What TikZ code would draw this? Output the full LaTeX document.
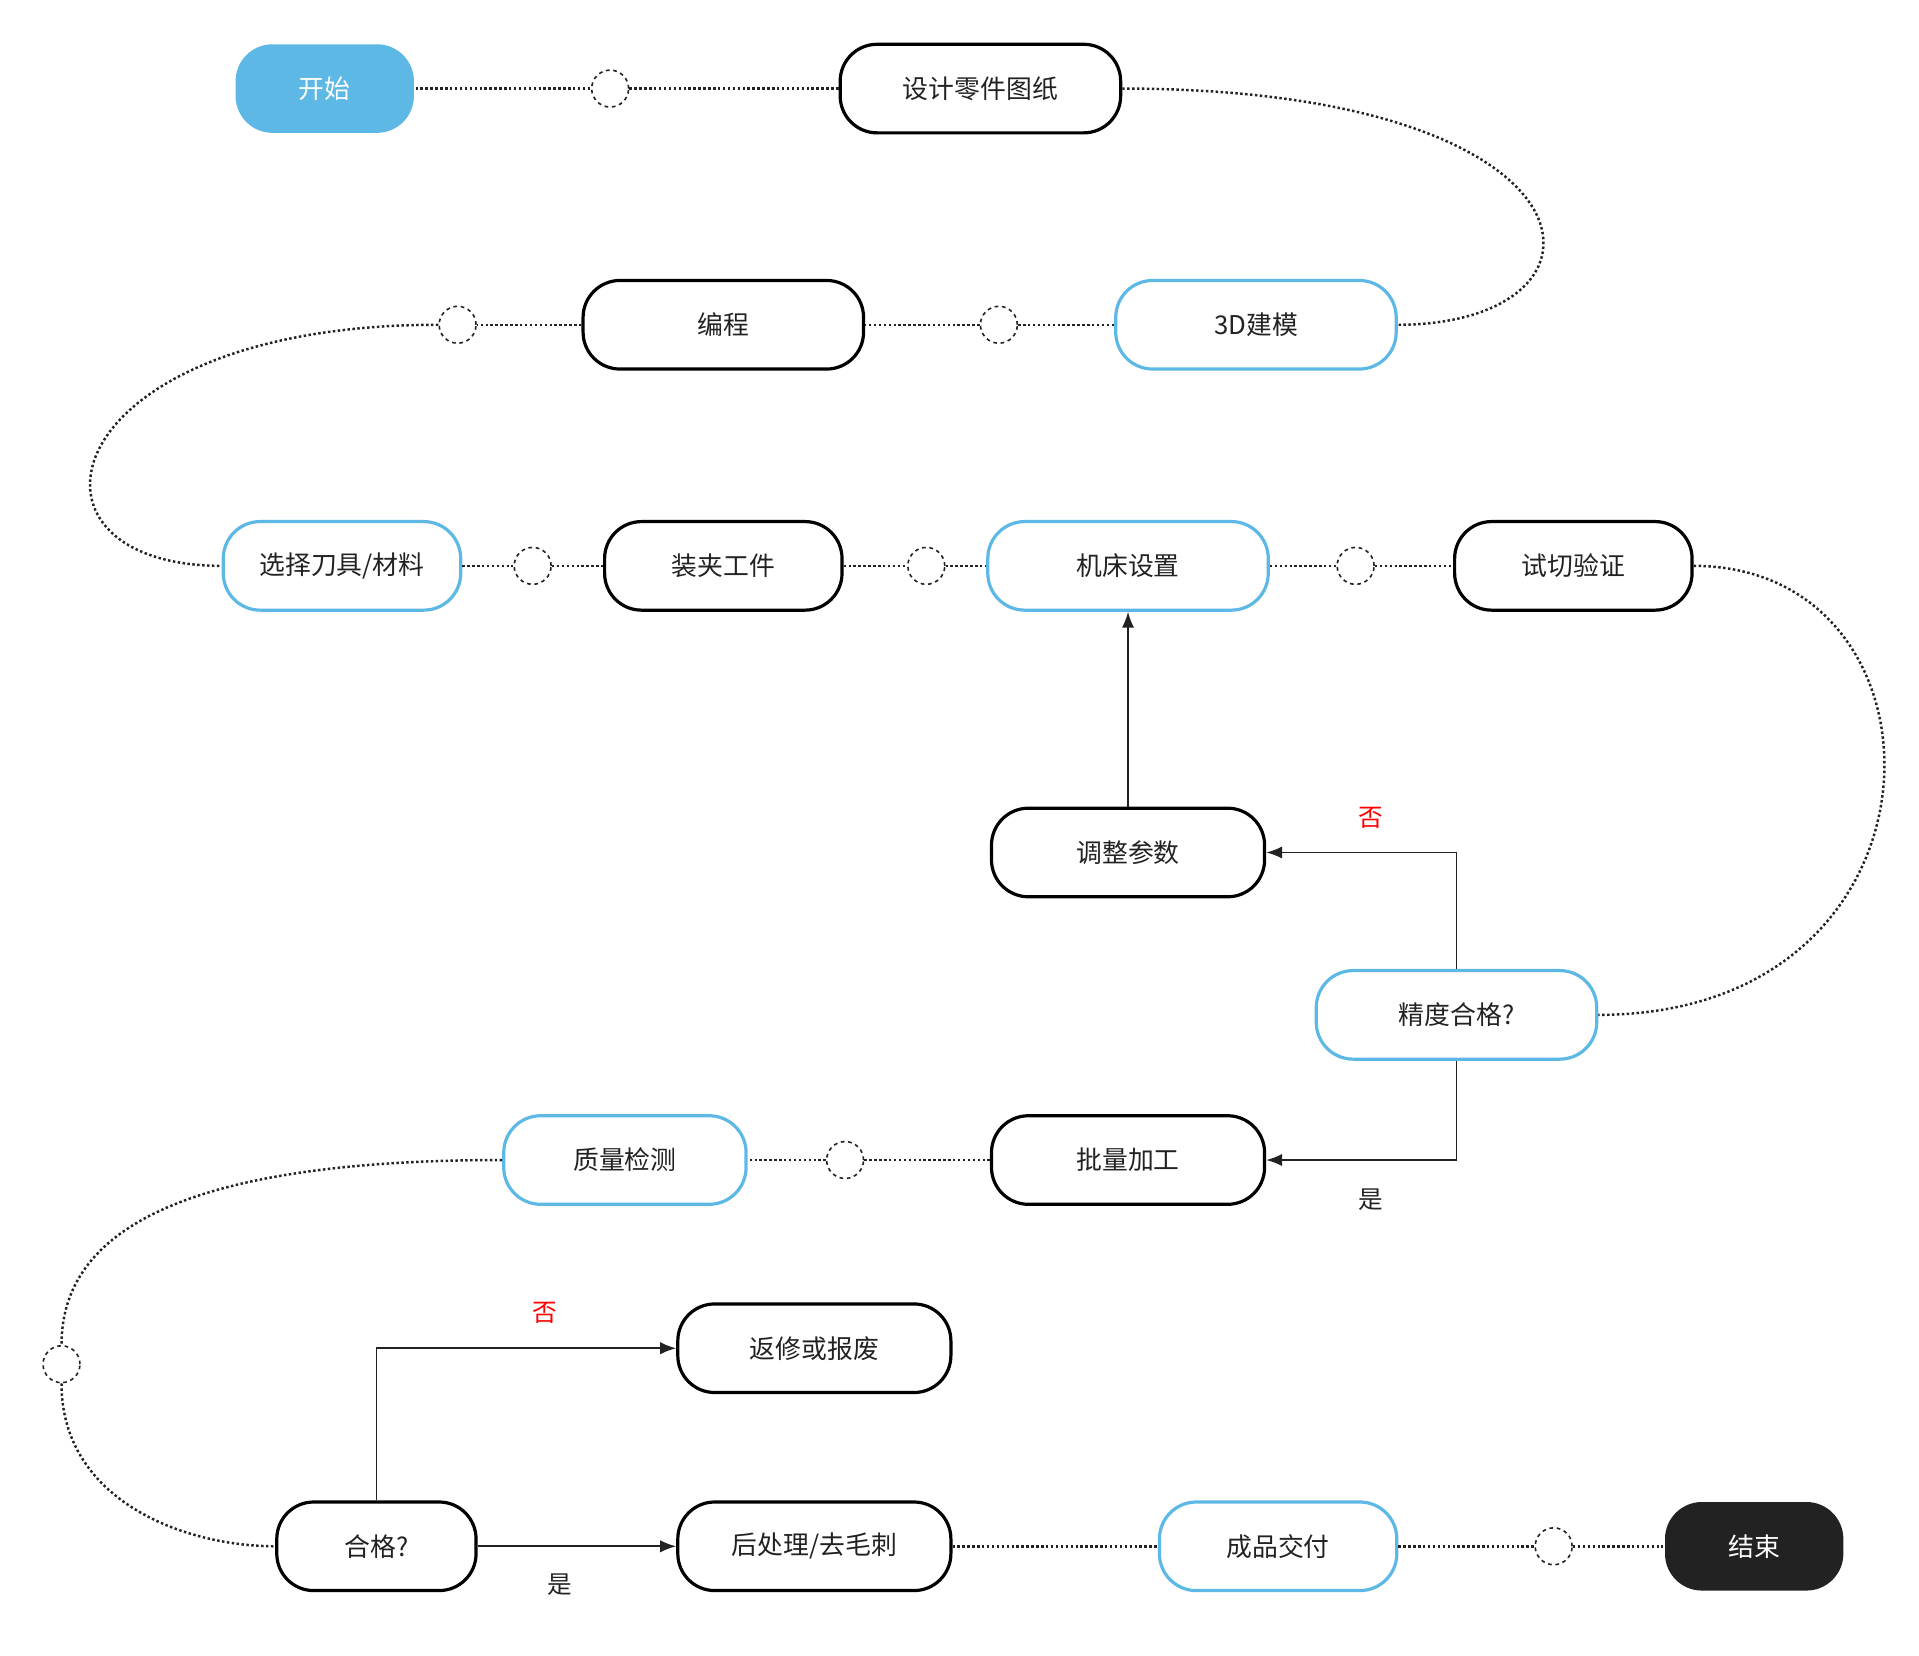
\documentclass[tikz,border=0pt]{standalone}
\usepackage{fontspec}
\setmainfont{Noto Sans CJK SC}
\usetikzlibrary{arrows.meta}
\definecolor{bl}{HTML}{5DB8E6}
\definecolor{dk}{HTML}{222222}
\begin{document}
\begin{tikzpicture}[x=1pt,y=-1pt,
 box/.style={draw=black,line width=2.6pt,rounded corners=30pt,minimum height=72pt,font=\fontsize{21}{24}\selectfont,text=dk,inner sep=0pt},
 bbox/.style={box,draw=bl},
 ci/.style={circle,draw=dk,dashed,line width=1.3pt,minimum size=30pt,inner sep=0pt},
 dot/.style={dotted,line width=2pt,dk},
 arr/.style={line width=1.4pt,dk,-{Latex[length=13pt,width=10pt]}},
 lb/.style={font=\fontsize{20}{24}\selectfont}]
\useasboundingbox (0,0) rectangle (1560,1346);
\node[box,draw=none,fill=bl,text=white,minimum width=145pt] (start) at (264,72) {开始};
\node[box,minimum width=228pt] (sj) at (797,72) {设计零件图纸};
\node[bbox,minimum width=228pt] (jm) at (1021,264) {3D建模};
\node[box,minimum width=228pt] (bc) at (588,264) {编程};
\node[bbox,minimum width=193pt] (xz) at (278,460) {选择刀具/材料};
\node[box,minimum width=193pt] (zj) at (588,460) {装夹工件};
\node[bbox,minimum width=228pt] (jc) at (917,460) {机床设置};
\node[box,minimum width=193pt] (sq) at (1279,460) {试切验证};
\node[box,minimum width=222pt] (tz) at (917,693) {调整参数};
\node[bbox,minimum width=228pt] (jd) at (1184,825) {精度合格?};
\node[box,minimum width=222pt] (pl) at (917,943) {批量加工};
\node[bbox,minimum width=197pt] (zl) at (508,943) {质量检测};
\node[box,minimum width=222pt] (fx) at (662,1096) {返修或报废};
\node[box,minimum width=162pt] (hg) at (306,1257) {合格?};
\node[box,minimum width=222pt] (hc) at (662,1257) {后处理/去毛刺};
\node[bbox,minimum width=193pt] (cp) at (1039,1257) {成品交付};
\node[box,draw=none,fill=dk,text=white,minimum width=145pt] (end) at (1426,1257) {结束};
\node[ci] (c1) at (496,72) {};
\node[ci] (c2) at (812,264) {};
\node[ci] (c3) at (372,264) {};
\node[ci] (c4) at (433,460) {};
\node[ci] (c5) at (753,460) {};
\node[ci] (c6) at (1102,460) {};
\node[ci] (c7) at (687,943) {};
\node[ci] (c8) at (50,1109) {};
\node[ci] (c9) at (1263,1257) {};
\draw[dot] (start) -- (c1) -- (sj);
\draw[dot] (sj.east) .. controls +(400,0) and +(190,0) .. (jm.east);
\draw[dot] (jm) -- (c2) -- (bc);
\draw[dot] (bc) -- (c3);
\draw[dot] (c3.west) .. controls (40,264) and (0,460) .. (xz.west);
\draw[dot] (xz) -- (c4) -- (zj);
\draw[dot] (zj) -- (c5) -- (jc);
\draw[dot] (jc) -- (c6) -- (sq);
\draw[dot] (sq.east) .. controls (1595,460) and (1595,825) .. (jd.east);
\draw[arr] (jd.south) |- (pl.east);
\draw[arr] (jd.north) |- (tz.east);
\draw[arr] (tz.north) -- (jc.south);
\draw[dot] (pl) -- (c7) -- (zl);
\draw[dot] (zl.west) .. controls (150,943) and (50,1000) .. (c8.north);
\draw[dot] (c8.south) .. controls (50,1220) and (150,1257) .. (hg.west);
\draw[arr] (hg.north) |- (fx.west);
\draw[arr] (hg.east) -- (hc.west);
\draw[dot] (hc) -- (cp);
\draw[dot] (cp) -- (c9) -- (end);
\node[lb,text=red] (n1) at (1114,665) {否};
\node[lb,text=dk] (y1) at (1114,975) {是};
\node[lb,text=red] (n2) at (443,1067) {否};
\node[lb,text=dk] (y2) at (455,1288) {是};
\end{tikzpicture}
\end{document}
